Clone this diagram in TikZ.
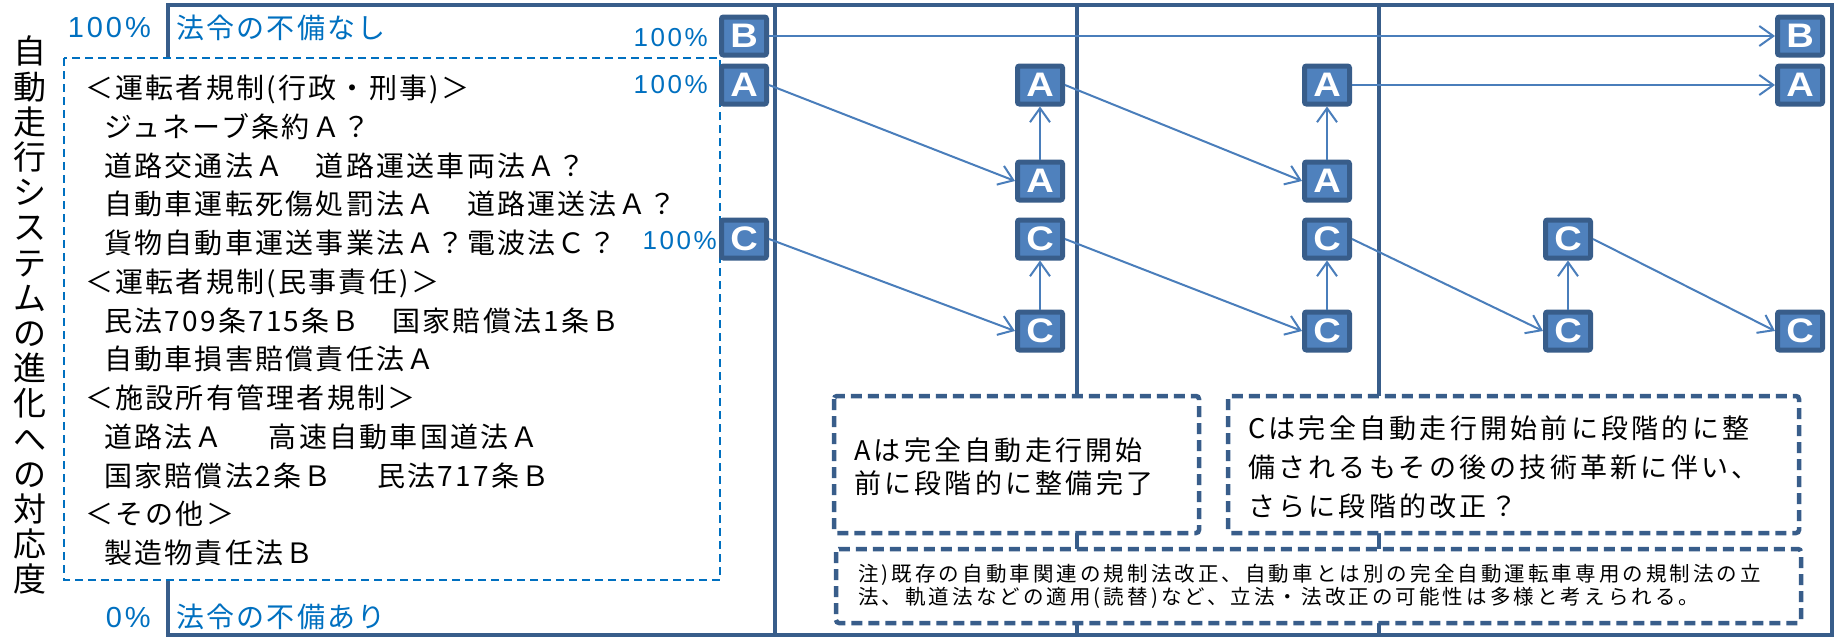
\documentclass[tikz,border=0pt]{standalone}
\usepackage{fontspec}
\setmainfont{Noto Sans CJK JP}
\newfontfamily\jpf{Noto Sans CJK JP}[LetterSpace=8]
\newfontfamily\jpb{Noto Sans CJK JP}[LetterSpace=12]
\newfontfamily\jpn{Noto Sans CJK JP}[LetterSpace=15]
\newfontfamily\arf{Liberation Sans}[LetterSpace=10]
\newfontfamily\arbf{Liberation Sans}[FakeStretch=1.12]
\usetikzlibrary{arrows.meta}
\definecolor{frameblue}{HTML}{385D8A}
\definecolor{fillblue}{HTML}{4F81BD}
\definecolor{arrowblue}{HTML}{4A7EBB}
\definecolor{textblue}{HTML}{0070C0}
\begin{document}
\begin{tikzpicture}[x=1pt,y=-1pt,
  frameline/.style={draw=frameblue,line width=4.5pt},
  lbox/.style={draw=frameblue,fill=fillblue,line width=5pt,rounded corners=2pt,
    minimum width=45pt,minimum height=38pt,inner sep=0pt,text=white,
    font=\arbf\bfseries\fontsize{34}{34}\selectfont},
  arr/.style={draw=arrowblue,line width=2pt,-{Straight Barb[length=14pt,width=20pt,line width=2pt]}},
  bluedash/.style={draw=textblue,line width=2pt,dash pattern=on 8pt off 5pt,fill=white},
  notebox/.style={draw=frameblue,line width=4.5pt,dash pattern=on 11pt off 6pt,fill=white,rounded corners=3pt},
  listtxt/.style={anchor=base west,inner sep=0pt,font=\jpf\fontsize{28}{28}\selectfont},
  boxtxt/.style={anchor=base west,inner sep=0pt,font=\jpb\fontsize{27}{27}\selectfont},
  notetxt/.style={anchor=base west,inner sep=0pt,font=\jpn\fontsize{20.5}{20.5}\selectfont},
  bluejp/.style={anchor=base west,inner sep=0pt,text=textblue,font=\jpf\fontsize{28}{28}\selectfont},
  bluepct/.style={anchor=base east,inner sep=0pt,text=textblue,font=\arf\fontsize{26}{26}\selectfont},
  bigpct/.style={anchor=base east,inner sep=0pt,text=textblue,font=\arf\fontsize{29}{29}\selectfont}
]
\useasboundingbox (0,0) rectangle (1836,640);
\fill[white] (0,0) rectangle (1836,640);
% frame and column dividers
\draw[frameline] (168,5) rectangle (1832,635);
\draw[frameline] (775,5) -- (775,635);
\draw[frameline] (1077,5) -- (1077,635);
\draw[frameline] (1379,5) -- (1379,635);
% vertical title
\node[anchor=north,inner sep=0pt,align=center,font=\fontsize{33}{35.2}\selectfont] (title) at (30,36)
  {自\\動\\走\\行\\シ\\ス\\テ\\ム\\の\\進\\化\\へ\\の\\対\\応\\度};
% blue labels
\node[bigpct] (p100) at (151,37.5) {100\%};
\node[bluejp] (nashi) at (176,38.5) {法令の不備なし};
\node[bigpct] (p0) at (151,627.5) {0\%};
\node[bluejp] (ari) at (176,627.5) {法令の不備あり};
% dashed list box
\draw[bluedash] (64,58) rectangle (720,580);
\node[listtxt] (l1) at (85,98.5) {＜運転者規制(行政・刑事)＞};
\node[listtxt] (l2) at (104,137.25) {ジュネーブ条約Ａ？};
\node[listtxt] (l3) at (104,176) {道路交通法Ａ　道路運送車両法Ａ？};
\node[listtxt] (l4) at (104,214.75) {自動車運転死傷処罰法Ａ　道路運送法Ａ？};
\node[listtxt] (l5) at (104,253.5) {貨物自動車運送事業法Ａ？電波法Ｃ？};
\node[listtxt] (l6) at (85,292.25) {＜運転者規制(民事責任)＞};
\node[listtxt] (l7) at (104,331) {民法709条715条Ｂ　国家賠償法1条Ｂ};
\node[listtxt] (l8) at (104,369.75) {自動車損害賠償責任法Ａ};
\node[listtxt] (l9) at (85,408.5) {＜施設所有管理者規制＞};
\node[listtxt] (l10) at (104,447.25) {道路法Ａ\hspace{46pt}高速自動車国道法Ａ};
\node[listtxt] (l11) at (104,486) {国家賠償法2条Ｂ\hspace{46pt}民法717条Ｂ};
\node[listtxt] (l12) at (85,524.75) {＜その他＞};
\node[listtxt] (l13) at (104,563.5) {製造物責任法Ｂ};
% percentage labels
\node[bluepct] (pb) at (708,46.5) {100\%};
\node[bluepct] (pa) at (708,93.5) {100\%};
\node[bluepct] (pc) at (717,249.5) {100\%};
% letter boxes
\node[lbox] (B0) at (744,36) {B};
\node[lbox] (A0) at (744,85) {A};
\node[lbox] (C0) at (744,239) {C};
\node[lbox] (A1t) at (1040,85) {A};
\node[lbox] (A1b) at (1040,181) {A};
\node[lbox] (C1t) at (1040,239) {C};
\node[lbox] (C1b) at (1040,331) {C};
\node[lbox] (A2t) at (1327,85) {A};
\node[lbox] (A2b) at (1327,181) {A};
\node[lbox] (C2t) at (1327,239) {C};
\node[lbox] (C2b) at (1327,331) {C};
\node[lbox] (C3t) at (1568,239) {C};
\node[lbox] (C3b) at (1568,331) {C};
\node[lbox] (B4) at (1800,36) {B};
\node[lbox] (A4) at (1800,85) {A};
\node[lbox] (C4) at (1800,331) {C};
% arrows
\draw[arr] (B0.east) -- (B4.west);
\draw[arr] (A0.east) -- (A1b.west);
\draw[arr] (A1b.north) -- (A1t.south);
\draw[arr] (A1t.east) -- (A2b.west);
\draw[arr] (A2b.north) -- (A2t.south);
\draw[arr] (A2t.east) -- (A4.west);
\draw[arr] (C0.east) -- (C1b.west);
\draw[arr] (C1b.north) -- (C1t.south);
\draw[arr] (C1t.east) -- (C2b.west);
\draw[arr] (C2b.north) -- (C2t.south);
\draw[arr] (C2t.east) -- (C3b.west);
\draw[arr] (C3b.north) -- (C3t.south);
\draw[arr] (C3t.east) -- (C4.west);
% note boxes
\draw[notebox] (834,396) rectangle (1199,533);
\node[boxtxt] (n1a) at (854,460) {Aは完全自動走行開始};
\node[boxtxt] (n1b) at (854,493) {前に段階的に整備完了};
\draw[notebox] (1228,396) rectangle (1799,533);
\node[boxtxt] (n2a) at (1248,438.5) {Cは完全自動走行開始前に段階的に整};
\node[boxtxt] (n2b) at (1248,477.5) {備されるもその後の技術革新に伴い、};
\node[boxtxt] (n2c) at (1248,516.5) {さらに段階的改正？};
\draw[notebox] (836,549) rectangle (1801,623);
\node[notetxt] (n3a) at (858,581.5) {注)既存の自動車関連の規制法改正、自動車とは別の完全自動運転車専用の規制法の立};
\node[notetxt] (n3b) at (858,604) {法、軌道法などの適用(読替)など、立法・法改正の可能性は多様と考えられる。};
\end{tikzpicture}
\end{document}
